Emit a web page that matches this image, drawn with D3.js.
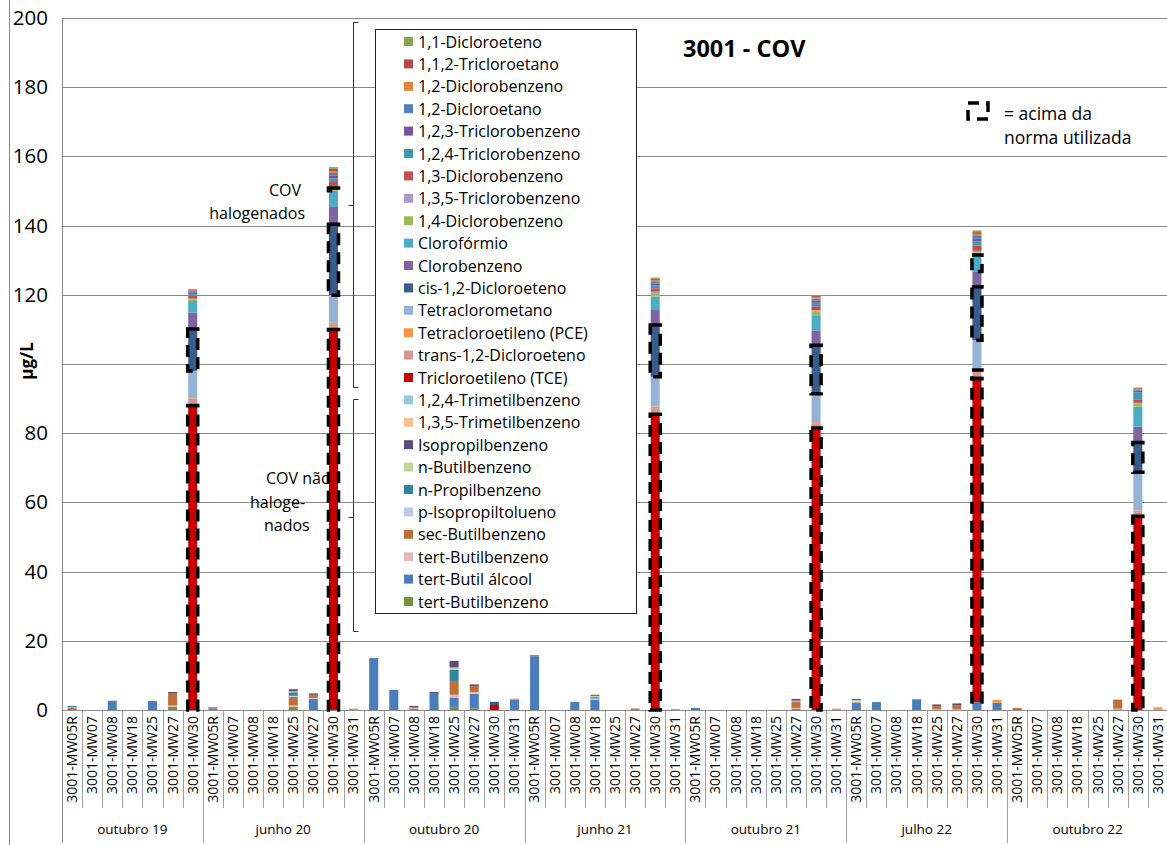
<!DOCTYPE html>
<html>
<head>
<meta charset="utf-8">
<script src="https://cdn.jsdelivr.net/npm/d3@7"></script>
<style>
  body { margin: 0; background: #fff; }
  svg { display: block; }
  text { font-family: "Open Sans", "Noto Sans", sans-serif; fill: #000; }
</style>
</head>
<body>
<svg id="chart" width="1167" height="845"></svg>
<script>
// Sampling campaigns and the wells sampled in each one
const campaigns = ["outubro 19", "junho 20", "outubro 20", "junho 21", "outubro 21", "julho 22", "outubro 22"];
const wellsFirst = ["3001-MW05R", "3001-MW07", "3001-MW08", "3001-MW18", "3001-MW25", "3001-MW27", "3001-MW30"];
const wellsLater = ["3001-MW05R", "3001-MW07", "3001-MW08", "3001-MW18", "3001-MW25", "3001-MW27", "3001-MW30", "3001-MW31"];

// Compounds in legend order (top of the legend = top of each stack)
const seriesNames = [
  "1,1-Dicloroeteno", "1,1,2-Tricloroetano", "1,2-Diclorobenzeno", "1,2-Dicloroetano",
  "1,2,3-Triclorobenzeno", "1,2,4-Triclorobenzeno", "1,3-Diclorobenzeno", "1,3,5-Triclorobenzeno",
  "1,4-Diclorobenzeno", "Clorofórmio", "Clorobenzeno", "cis-1,2-Dicloroeteno",
  "Tetraclorometano", "Tetracloroetileno (PCE)", "trans-1,2-Dicloroeteno", "Tricloroetileno (TCE)",
  "1,2,4-Trimetilbenzeno", "1,3,5-Trimetilbenzeno", "Isopropilbenzeno", "n-Butilbenzeno",
  "n-Propilbenzeno", "p-Isopropiltolueno", "sec-Butilbenzeno", "tert-Butilbenzeno",
  "tert-Butil álcool", "tert-Butilbenzeno"
];
const seriesColors = [
  "#8BA44E", "#B5484A", "#E0843C", "#4F81BD",
  "#7554A0", "#4198AF", "#C0504D", "#A99BC4",
  "#9BBB59", "#4BACC6", "#8064A2", "#385D8A",
  "#95B3D7", "#F79646", "#D99594", "#C80000",
  "#93CDDD", "#FAC090", "#604A7B", "#C3D69B",
  "#31859C", "#B9CDE5", "#BE7036", "#E6B9B8",
  "#4A7EBB", "#76923C"
];

// Concentrations (µg/L); one row per campaign, wells in the order above
const v11DCE = [
  0,0,0,0,0,0,0.2,
  0,0,0,0,0,0,0.5,0,
  0,0,0,0,0,0,0,0,
  0,0,0,0,0,0,0.3,0,
  0,0,0,0,0,0,0.2,0,
  0,0,0,0,0,0,0.5,0,
  0,0,0,0,0,0,0.2,0
];
const v112TCA = [
  0,0,0,0,0,0,0.3,
  0,0,0,0,0,0,0.6,0,
  0,0,0,0,0,0,0,0,
  0,0,0,0,0,0,0.4,0,
  0,0,0,0,0,0,0.3,0,
  0,0,0,0,0,0,0.5,0,
  0,0,0,0,0,0,0.2,0
];
const v12DCB = [
  0,0,0,0,0,0,0.4,
  0,0,0,0,0,0,0.6,0,
  0,0,0,0,0,0,0,0,
  0,0,0,0,0,0,0.4,0,
  0,0,0,0,0,0,0.5,0,
  0,0,0,0,0,0,0.6,0,
  0,0,0,0,0,0,0.3,0
];
const v12DCA = [
  0,0,0,0,0,0,0.3,
  0.4,0,0,0,0,0,0.8,0,
  0,0,0,0,0,0,0,0,
  0,0,0,0,0,0,0.6,0,
  0,0,0,0,0,0,0.6,0,
  0,0,0,0,0,0,0.8,0,
  0,0,0,0,0,0,0.2,0
];
const v123TCB = [
  0,0,0,0,0,0,0.3,
  0,0,0,0,0,0,0.8,0,
  0,0,0,0,0,0,0,0,
  0,0,0,0,0,0,0.6,0,
  0,0,0,0,0,0,0.6,0,
  0,0,0,0,0,0,0.8,0,
  0,0,0,0,0,0,0.5,0
];
const v124TCB = [
  0,0,0,0,0,0,0.5,
  0,0,0,0,0,0,1.0,0,
  0,0,0,0,0,0,0,0,
  0,0,0,0,0,0,0.8,0,
  0,0,0,0,0,0,1.0,0,
  0,0,0,0,0,0,1.2,0,
  0,0,0,0,0,0,2.0,0
];
const v13DCB = [
  0,0,0,0,0,0,0.8,
  0,0,0,0,0,0,1.2,0,
  0,0,0,0,0,0,0,0,
  0,0,0,0,0,0,1.0,0,
  0,0,0,0,0,0,1.2,0,
  0,0,0,0,0,0,1.5,0,
  0,0,0,0,0,0,1.0,0
];
const v135TCB = [
  0,0,0,0,0,0,0.2,
  0,0,0,0,0,0,0.5,0,
  0,0,0,0,0,0,0,0,
  0,0,0,0,0,0,0.4,0,
  0,0,0,0,0,0,0.4,0,
  0,0,0,0,0,0,0.4,0,
  0,0,0,0,0,0,0.3,0
];
const v14DCB = [
  0,0,0,0,0,0,0.5,
  0,0,0,0,0,0,0.8,0,
  0,0,0,0,0,0,0,0,
  0,0,0,0,0,0,1.0,0,
  0,0,0,0,0,0,1.0,0,
  0,0,0,0,0,0,0.8,0,
  0,0,0,0,0,0,0.8,0
];
const vCloroformio = [
  0,0,0,0,0,0,3.3,
  0,0,0,0,0,0,4.7,0,
  0,0,0,0,0,0,0,0,
  0,0,0,0,0,0,3.9,0,
  0,0,0,0,0,0,4.4,0,
  0,0,0,0,0,0,4.8,0,
  0,0,0,0,0,0,5.8,0
];
const vClorobenzeno = [
  0,0,0,0,0,0,4.8,
  0,0,0,0,0,0,5.0,0,
  0,0,0,0,0,0,0,0,
  0,0,0,0,0,0,4.3,0,
  0,0,0,0,0,0,4.3,0,
  0,0,0,0,0,0,4.4,0,
  0,0,0,0,0,0,4.6,0
];
const vCis12DCE = [
  0,0,0,0,0,0,12.1,
  0,0,0,0,0,0,20.5,0,
  0,0,0,0,0,0,0.9,0,
  0,0,0,0,0,0,15.0,0,
  0,0,0,0,0,0,14.0,0,
  0,0,0,0,0,0,15.4,0,
  0,0,0,0,0,0,8.6,0
];
const vTetraclorometano = [
  0,0,0,0,0,0,7.9,
  0,0,0,0,0,0,8.0,0,
  0,0,0,0,0,0,0,0,
  0,0,0,0,0,0,8.6,0,
  0,0,0,0,0,0,8.2,0,
  0,0,0,0,0,0,8.2,0,
  0,0,0,0,0,0,11.0,0
];
const vPCE = [
  0,0,0,0,0,0,0.5,
  0,0,0,0,0,0,0.6,0.4,
  0,0,0,0,0,0,0,0.4,
  0,0,0,0,0,0,0.5,0.3,
  0,0,0,0,0,0,0.5,0.4,
  0,0,0,0,0,0,0.4,0.8,
  0,0,0,0,0,0,0.5,0.8
];
const vTrans12DCE = [
  0,0,0,0,0,0,1.6,
  0,0,0,0,0,0,1.3,0,
  0,0,0,0,0,0,0,0,
  0,0,0,0,0,0,1.7,0,
  0,0,0,0,0,0,1.2,0,
  0,0,0,0,0,0,2.5,0,
  0,0,0,0,0,0,1.2,0
];
const vTCE = [
  0,0,0,0,0,0,88,
  0,0,0,0,0,0,110,0,
  0,0,0,0,0,0,1.45,0,
  0,0,0,0,0,0,85.5,0,
  0,0,0,0,0,0,81.5,0,
  0,0,0,0,0,0,93.5,0,
  0,0,0,0,0,0,56,0
];
const v124TMB = [
  0,0,0,0,0,0,0,
  0,0,0,0,0,0,0,0,
  0,0,0,0,0,0,0,0,
  0,0,0,0,0,0,0,0,
  0,0,0,0,0,0,0,0,
  0,0,0,0,0,0,0,0,
  0,0,0,0,0,0,0,0
];
const v135TMB = [
  0,0,0,0,0,0,0,
  0,0,0,0,0,0,0,0,
  0,0,0,0,0,0,0,0,
  0,0,0,0,0,0,0,0,
  0,0,0,0,0,0,0,0,
  0,0,0,0,0,0,0,0,
  0,0,0,0,0,0,0,0
];
const vIsopropilbenzeno = [
  0,0,0,0,0,0.5,0,
  0,0,0,0,0.6,0.4,0,0,
  0,0,0.3,0.3,1.9,0.5,0,0,
  0.3,0,0,0.3,0,0,0,0,
  0,0,0,0,0,0.5,0,0,
  0.3,0,0,0,0.5,0.5,0,0,
  0,0,0,0,0,0,0,0
];
const vNButilbenzeno = [
  0,0,0,0,0,0,0,
  0,0,0,0,0.3,0,0,0,
  0,0,0,0,0.7,0,0,0,
  0,0,0,0.4,0,0,0,0,
  0,0,0,0,0,0.2,0,0,
  0.4,0,0,0,0,0,0,0,
  0,0,0,0,0,0,0,0
];
const vNPropilbenzeno = [
  0.4,0,0,0,0,0,0,
  0,0,0,0,1.0,0,0,0,
  0,0,0,0,3.2,0,0,0,
  0,0,0,0.4,0,0,0,0,
  0,0,0,0,0,0,0,0,
  0,0,0,0,0,0,0,0,
  0,0,0,0,0,0,0,0
];
const vPIsopropiltolueno = [
  0.2,0,0,0,0,0,0,
  0,0,0,0,0.3,0,0,0,
  0,0,0,0,0,0,0,0,
  0,0,0,0.3,0,0,0,0,
  0,0,0,0,0,0,0,0,
  0,0,0,0,0,0,0,0,
  0,0,0,0,0,0,0,0
];
const vSecButilbenzeno = [
  0.6,0,0,0,0,3.4,0,
  0.4,0,0,0,2.5,0.9,0,0,
  0,0,0.3,0,4.0,1.7,0,0,
  0,0,0,0,0,0.4,0,0,
  0,0,0,0,0,1.9,0,0,
  0,0,0,0,0.9,1.2,0,0,
  0.6,0,0,0,0,2.6,0,0
];
const vTertButilbenzenoA = [
  0,0,0.2,0,0,0.4,0,
  0,0,0,0,0.4,0.3,0,0,
  0,0,0.3,0,0.8,0.5,0,0,
  0,0,0,0,0,0,0,0,
  0,0,0,0,0,0.3,0,0,
  0.3,0,0,0,0.2,0.2,0,0,
  0,0,0,0,0,0.2,0,0
];
const vTertButilAlcool = [
  0,0,2.6,0,2.6,0,0,
  0,0,0,0,0,3.2,0,0,
  15,5.8,0,4.9,2.7,4.2,0,2.9,
  15.5,0,2.3,3.0,0,0,0,0,
  0.6,0,0,0,0,0,0,0,
  2.2,2.3,0,3.1,0,0,2.3,2.1,
  0,0,0,0,0,0,0,0
];
const vTertButilbenzenoB = [
  0,0,0,0,0,0.9,0,
  0,0,0,0,0.9,0,0,0,
  0,0,0.3,0,0.9,0.5,0,0,
  0,0,0,0,0,0,0,0,
  0,0,0,0,0,0.3,0,0,
  0,0,0,0,0,0,0,0,
  0,0,0,0,0,0.2,0,0
];

const seriesValues = [
  v11DCE, v112TCA, v12DCB, v12DCA, v123TCB, v124TCB, v13DCB, v135TCB,
  v14DCB, vCloroformio, vClorobenzeno, vCis12DCE, vTetraclorometano, vPCE,
  vTrans12DCE, vTCE, v124TMB, v135TMB, vIsopropilbenzeno, vNButilbenzeno,
  vNPropilbenzeno, vPIsopropiltolueno, vSecButilbenzeno, vTertButilbenzenoA,
  vTertButilAlcool, vTertButilbenzenoB
];

// Segments exceeding the reference standard: [series index, sample index]
const aboveNorm = [
  [15, 6], [15, 13], [15, 29], [15, 37], [15, 45], [15, 53],
  [11, 6], [11, 13], [11, 29], [11, 37], [11, 45], [11, 53],
  [14, 45], [8, 13], [9, 45]
];

const yTicks = [0, 20, 40, 60, 80, 100, 120, 140, 160, 180, 200];

// ---- build sample list ----
const samples = [];
campaigns.forEach((c, gi) => {
  const wells = gi === 0 ? wellsFirst : wellsLater;
  wells.forEach(w => samples.push({ campaign: c, well: w }));
});
const idx = d3.range(samples.length);

const rows = idx.map(i => {
  const r = { i };
  seriesValues.forEach((arr, s) => { r["s" + s] = arr[i]; });
  return r;
});
// bottom of the stack is the last legend entry
const stackKeys = d3.range(seriesNames.length).reverse().map(s => "s" + s);
const layers = d3.stack().keys(stackKeys)(rows);

// ---- scales ----
const svg = d3.select("#chart");
const plotL = 62, plotR = 1168, plotT = 18, plotB = 710;
const xCat = d3.scaleBand().domain(idx).range([plotL, plotR]).padding(0);
const xBar = d3.scaleBand().domain(idx).range([plotL, plotR]).paddingInner(0.55).paddingOuter(0.275);
const y = d3.scaleLinear().domain([0, 200]).range([plotB, plotT]);

// outer frame edge
svg.append("line").attr("x1", 9.5).attr("x2", 9.5).attr("y1", 0).attr("y2", 845)
  .attr("stroke", "#8c8c8c").attr("stroke-width", 1);

// gridlines
svg.append("g").selectAll("line").data(yTicks).join("line")
  .attr("x1", plotL).attr("x2", plotR)
  .attr("y1", d => Math.round(y(d)) + 0.5).attr("y2", d => Math.round(y(d)) + 0.5)
  .attr("stroke", "#8a8a8a").attr("stroke-width", 1);

// y axis
const yAxis = svg.append("g").attr("transform", `translate(${plotL},0)`)
  .call(d3.axisLeft(y).tickValues(yTicks).tickSize(0).tickPadding(14));
yAxis.select(".domain").remove();
yAxis.selectAll("text").style("font-size", "20.5px").style("font-family", "'Open Sans', sans-serif");
svg.append("line").attr("x1", plotL + 0.5).attr("x2", plotL + 0.5).attr("y1", plotT).attr("y2", 843)
  .attr("stroke", "#8a8a8a");

// axis title sits in an opaque box over the middle tick label
svg.append("rect").attr("x", 11).attr("y", 334).attr("width", 42).attr("height", 56).attr("fill", "#fff");
svg.append("text").attr("transform", `translate(33,361) rotate(-90)`)
  .attr("text-anchor", "middle").style("font-size", "17px").style("font-weight", "bold")
  .text("µg/L");

// x axis: well labels
const xAxis = svg.append("g").attr("transform", `translate(0,${plotB})`)
  .call(d3.axisBottom(xCat).tickFormat(i => samples[i].well).tickSize(0));
xAxis.select(".domain").remove();
xAxis.selectAll("text")
  .attr("transform", "rotate(-90)")
  .attr("x", -6).attr("y", 0).attr("dy", "0.35em")
  .style("text-anchor", "end")
  .style("font-size", "14px").style("font-family", "'Open Sans', sans-serif");

// category separators
svg.append("g").selectAll("line").data(idx.slice(1)).join("line")
  .attr("x1", i => Math.round(xCat(i)) + 0.5).attr("x2", i => Math.round(xCat(i)) + 0.5)
  .attr("y1", plotB).attr("y2", 808)
  .attr("stroke", "#a0a0a0");

// campaign separators and labels
const groupStarts = [];
let acc = 0;
campaigns.forEach((c, gi) => {
  const n = gi === 0 ? wellsFirst.length : wellsLater.length;
  groupStarts.push({ name: c, start: acc, end: acc + n });
  acc += n;
});
svg.append("g").selectAll("line").data(groupStarts.slice(1)).join("line")
  .attr("x1", g => Math.round(xCat(g.start)) + 0.5).attr("x2", g => Math.round(xCat(g.start)) + 0.5)
  .attr("y1", 808).attr("y2", 843)
  .attr("stroke", "#a0a0a0");
svg.append("g").selectAll("text").data(groupStarts).join("text")
  .attr("x", g => (xCat(g.start) + xCat(g.end - 1) + xCat.bandwidth()) / 2)
  .attr("y", 834)
  .attr("text-anchor", "middle")
  .style("font-size", "13.5px")
  .text(g => g.name);

// baseline
svg.append("line").attr("x1", plotL).attr("x2", plotR).attr("y1", plotB + 0.5).attr("y2", plotB + 0.5)
  .attr("stroke", "#8a8a8a");

// stacked bars
const barG = svg.append("g");
layers.forEach(layer => {
  const s = +layer.key.slice(1);
  barG.append("g").attr("fill", seriesColors[s])
    .selectAll("rect").data(layer.filter(d => d[1] - d[0] > 0)).join("rect")
    .attr("x", d => xBar(d.data.i))
    .attr("width", xBar.bandwidth())
    .attr("y", d => y(d[1]))
    .attr("height", d => y(d[0]) - y(d[1]));
});

// dashed outlines for values above the standard
const layerBySeries = {};
layers.forEach(l => { layerBySeries[+l.key.slice(1)] = l; });
svg.append("g").selectAll("rect").data(aboveNorm).join("rect")
  .attr("x", d => xBar(d[1]) - 0.5)
  .attr("width", xBar.bandwidth() + 1)
  .attr("y", d => y(layerBySeries[d[0]][d[1]][1]))
  .attr("height", d => y(layerBySeries[d[0]][d[1]][0]) - y(layerBySeries[d[0]][d[1]][1]))
  .attr("fill", "none").attr("stroke", "#000").attr("stroke-width", 3.5)
  .attr("stroke-dasharray", "12,7");

// group brackets
function bracket(y0, y1, ym) {
  const x = 353.5;
  svg.append("path")
    .attr("d", `M${x + 5},${y0}H${x}V${y1}H${x + 5}M${x},${ym}H${x - 5}`)
    .attr("fill", "none").attr("stroke", "#333").attr("stroke-width", 1);
}
bracket(22.5, 387.5, 205.5);
bracket(399.5, 631.5, 517.5);

const ann = svg.append("g").style("font-size", "16px");
ann.append("text").attr("x", 301).attr("y", 196).attr("text-anchor", "end").text("COV");
ann.append("text").attr("x", 305).attr("y", 219).attr("text-anchor", "end").text("halogenados");
ann.append("text").attr("x", 266).attr("y", 484).text("COV não");
ann.append("text").attr("x", 250).attr("y", 508).text("haloge-");
ann.append("text").attr("x", 264).attr("y", 531).text("nados");

// legend
const lg = svg.append("g");
lg.append("rect").attr("x", 375.5).attr("y", 29.5).attr("width", 261).attr("height", 584)
  .attr("fill", "#fff").attr("stroke", "#222").attr("stroke-width", 1);
const items = lg.selectAll("g.item").data(seriesNames).join("g").attr("class", "item")
  .attr("transform", (d, i) => `translate(0,${42 + i * 22.4})`);
items.append("rect").attr("x", 404).attr("y", -5).attr("width", 9).attr("height", 9)
  .attr("fill", (d, i) => seriesColors[i]);
items.append("text").attr("x", 418).attr("y", 0).attr("dy", "0.35em")
  .style("font-size", "16px").text(d => d);

// title
svg.append("text").attr("x", 683).attr("y", 57).style("font-size", "23.5px").style("font-weight", "bold")
  .text("3001 - COV");

// above-standard key
svg.append("rect").attr("x", 968).attr("y", 103).attr("width", 20).attr("height", 16)
  .attr("fill", "none").attr("stroke", "#000").attr("stroke-width", 3.5).attr("stroke-dasharray", "11,7");
svg.append("text").attr("x", 1004).attr("y", 120).style("font-size", "17.5px").text("=  acima da");
svg.append("text").attr("x", 1004).attr("y", 144).style("font-size", "17.5px").text("norma utilizada");
</script>
</body>
</html>
